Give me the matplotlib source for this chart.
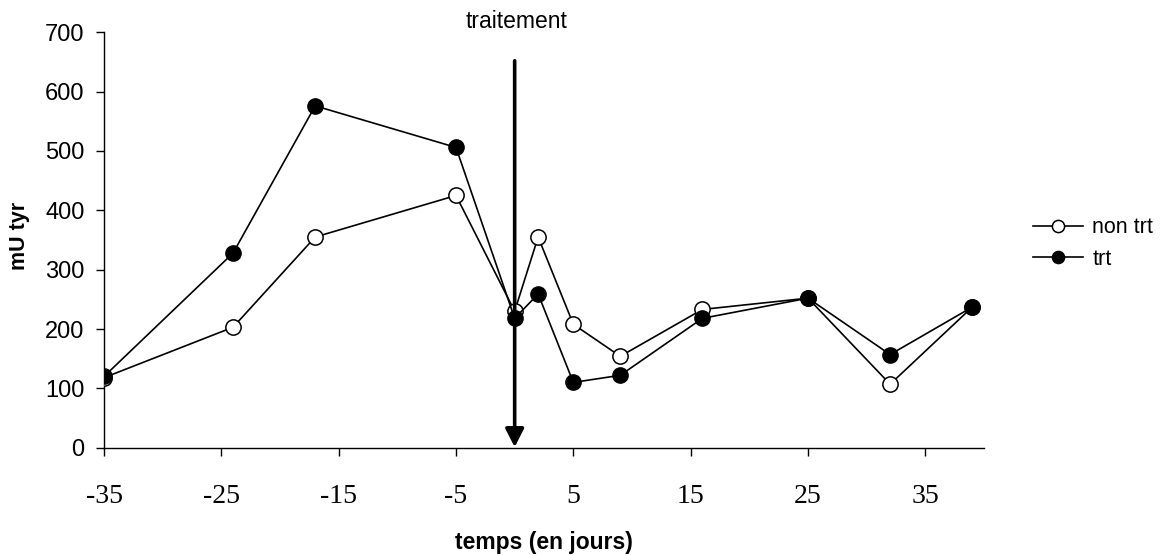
import matplotlib.pyplot as plt

plt.rcParams['font.family'] = ['Liberation Sans', 'DejaVu Sans']

# days relative to treatment
jours = [-35, -24, -17, -5, 0, 2, 5, 9, 16, 25, 32, 39]
non_trt = [118, 203, 355, 425, 230, 355, 208, 154, 233, 252, 107, 237]
trt = [120, 328, 576, 506, 218, 259, 110, 122, 218, 252, 157, 237]

x_ticks = [-35, -25, -15, -5, 5, 15, 25, 35]
y_ticks = [0, 100, 200, 300, 400, 500, 600, 700]
jour_traitement = 0

fig = plt.figure(figsize=(11.68, 5.55), dpi=100)
ax = fig.add_axes([104/1168, 1 - 447.7/555, (984-104)/1168, (447.7-32.3)/555])

ax.plot(jours, non_trt, color='black', lw=1.2, marker='o', markersize=11,
        markerfacecolor='white', markeredgecolor='black', markeredgewidth=1.1,
        label='non trt', zorder=3)
ax.plot(jours, trt, color='black', lw=1.2, marker='o', markersize=11,
        markerfacecolor='black', markeredgecolor='black',
        label='trt', zorder=3)

# treatment arrow
ax.annotate('', xy=(jour_traitement, 1), xytext=(jour_traitement, 652),
            arrowprops=dict(arrowstyle='-|>,head_width=0.56,head_length=1.1',
                            color='black', lw=2.6, shrinkA=0, shrinkB=0),
            zorder=4)
fig.text(516.7/1168, 1 - 21.7/555, 'traitement', ha='center', va='center', fontsize=16.5)

ax.set_xlim(-35, 40)
ax.set_ylim(0, 700)
ax.set_xticks(x_ticks)
ax.set_yticks(y_ticks)
ax.set_xticklabels([str(v) for v in x_ticks], family='Liberation Serif', fontsize=20)
ax.tick_params(axis='x', direction='out', length=6, width=1, pad=20)
ax.tick_params(axis='y', direction='out', length=6, width=1, pad=8, labelsize=17)
for s in ['top', 'right']:
    ax.spines[s].set_visible(False)
for s in ['left', 'bottom']:
    ax.spines[s].set_linewidth(1)

fig.text(544/1168, 1 - 542/555, 'temps (en jours)', ha='center', va='center',
         fontsize=16.5, fontweight='bold')
fig.text(20/1168, 1 - 236/555, 'mU tyr', ha='center', va='center', rotation=90,
         fontsize=15.5, fontweight='bold')

fig.legend(loc='center left', bbox_to_anchor=(1033/1168, 1 - 243.5/555),
           frameon=False, fontsize=15.5, handlelength=2.3, handletextpad=0.45,
           labelspacing=0.5, borderpad=0, borderaxespad=0, markerscale=0.8)

fig.savefig('out.png', dpi=100)
